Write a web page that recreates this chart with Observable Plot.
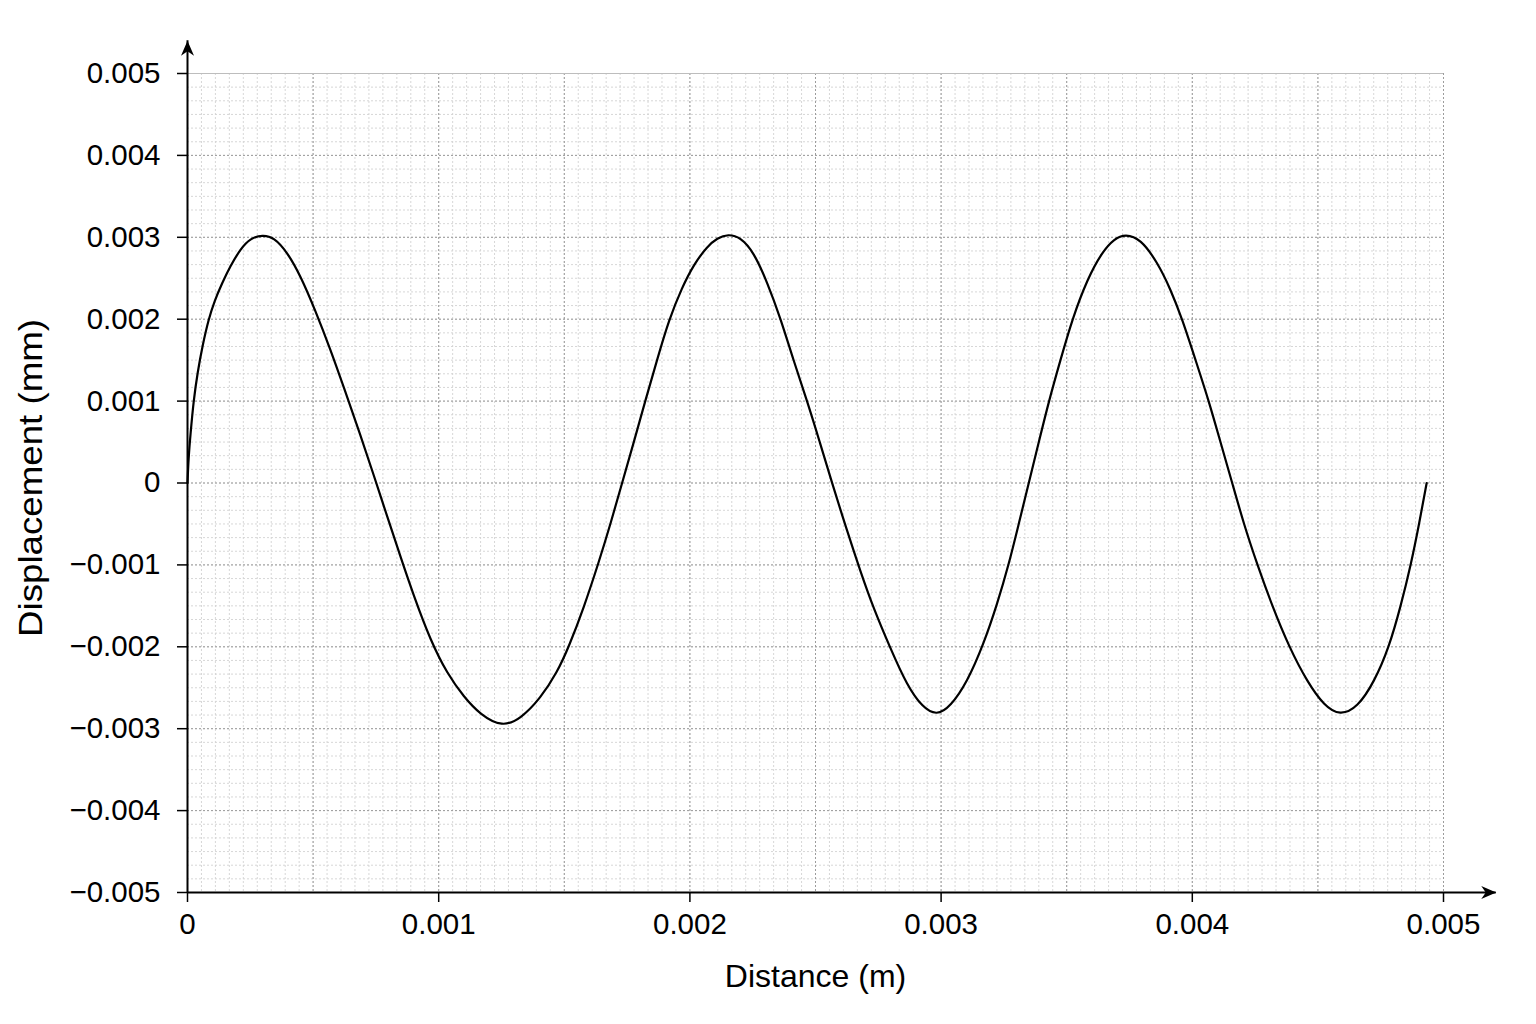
<!DOCTYPE html>
<html>
<head>
<meta charset="utf-8">
<script src="https://cdn.jsdelivr.net/npm/d3@7"></script>
<script src="https://cdn.jsdelivr.net/npm/@observablehq/plot@0.6"></script>
<style>
  html, body { margin: 0; padding: 0; background: #ffffff; }
  #chart svg { display: block; }
</style>
</head>
<body>
<div id="chart"></div>
<script>
// ---- Data ----
const distance = [
  0, 0.000004, 0.000012, 0.000024, 0.000040, 0.000060, 0.000084, 0.000107, 0.000139, 0.000171,
  0.000211, 0.000251, 0.000299, 0.000344, 0.000397, 0.000450, 0.000510, 0.000569, 0.000622, 0.000689,
  0.000742, 0.000795, 0.000848, 0.000901, 0.000967, 0.001034, 0.001100, 0.001166, 0.001253, 0.001326,
  0.001405, 0.001472, 0.001518, 0.001578, 0.001637, 0.001684, 0.001730, 0.001777, 0.001823, 0.001870,
  0.001916, 0.001969, 0.002016, 0.002069, 0.002109, 0.002152, 0.002201, 0.002254, 0.002308, 0.002361,
  0.002412, 0.002467, 0.002517, 0.002566, 0.002623, 0.002680, 0.002731, 0.002797, 0.002864, 0.002926,
  0.002982, 0.003037, 0.003104, 0.003170, 0.003223, 0.003270, 0.003309, 0.003349, 0.003389, 0.003429,
  0.003475, 0.003522, 0.003582, 0.003641, 0.003688, 0.003734, 0.003794, 0.003860, 0.003913, 0.003960,
  0.004013, 0.004066, 0.004112, 0.004159, 0.004205, 0.004259, 0.004318, 0.004385, 0.004458, 0.004525,
  0.004588, 0.004658, 0.004724, 0.004784, 0.004830, 0.004870, 0.004903, 0.004933
];
const displacement = [
  0, 0.00030, 0.00060, 0.00100, 0.00135, 0.00168, 0.00200, 0.00222, 0.00245, 0.00265,
  0.00286, 0.00299, 0.00303, 0.00300, 0.00282, 0.00253, 0.00210, 0.00163, 0.00117, 0.00058,
  0.00009, -0.00041, -0.00090, -0.00138, -0.00192, -0.00233, -0.00261, -0.00283, -0.00298, -0.00288,
  -0.00263, -0.00231, -0.00200, -0.00152, -0.00097, -0.00050, 0.00000, 0.00050, 0.00101, 0.00151,
  0.00199, 0.00239, 0.00267, 0.00289, 0.00299, 0.00304, 0.00300, 0.00282, 0.00245, 0.00201,
  0.00150, 0.00100, 0.00050, 0.00000, -0.00056, -0.00109, -0.00153, -0.00201, -0.00247, -0.00274,
  -0.00284, -0.00273, -0.00243, -0.00196, -0.00148, -0.00099, -0.00050, 0.00000, 0.00050, 0.00100,
  0.00150, 0.00200, 0.00249, 0.00282, 0.00298, 0.00304, 0.00298, 0.00270, 0.00237, 0.00200,
  0.00150, 0.00100, 0.00050, 0.00000, -0.00050, -0.00100, -0.00150, -0.00200, -0.00243, -0.00272,
  -0.00284, -0.00274, -0.00243, -0.00200, -0.00150, -0.00100, -0.00050, 0.00000
];

const xTicks = [0, 0.001, 0.002, 0.003, 0.004, 0.005];
const yTicks = [-0.005, -0.004, -0.003, -0.002, -0.001, 0, 0.001, 0.002, 0.003, 0.004, 0.005];
const xMajorGrid = [0.0005, 0.001, 0.0015, 0.002, 0.0025, 0.003, 0.0035, 0.004, 0.0045, 0.005];
const yMajorGrid = [-0.004, -0.003, -0.002, -0.001, 0, 0.001, 0.002, 0.003, 0.004];
const xMinorGrid = d3.range(1, 90).map(i => i * 0.0005 / 9);
const yMinorGrid = d3.range(1, 60).map(i => -0.005 + i * 0.001 / 6);
const xAxisEnd = 0.00521;   // x-axis line runs past the last tick to its arrow
const yAxisEnd = 0.00540;   // y-axis line runs past the top tick to its arrow

const xTitle = "Distance (m)";
const yTitle = "Displacement (mm)";

const points = distance.map((d, i) => ({ distance: d, displacement: displacement[i] }));

const fmt = d => (d === 0 ? "0" : d3.format(".3f")(d));

// filled "stealth" arrowhead, tip at the dot's position, pointing up
const stealth = {
  draw(ctx) {
    ctx.moveTo(0, 0);
    ctx.lineTo(-6.5, 15);
    ctx.lineTo(0, 10.5);
    ctx.lineTo(6.5, 15);
    ctx.closePath();
  }
};

const chart = Plot.plot({
  width: 1536,
  height: 1024,
  marginLeft: 187,
  marginRight: 93,
  marginTop: 73,
  marginBottom: 132,
  style: { fontFamily: "'Liberation Sans', Arial, Helvetica, sans-serif", fontSize: "29.5px", color: "#111", background: "#fff" },
  x: { domain: [0, 0.005], label: null },
  y: { domain: [-0.005, 0.005], label: null },
  marks: [
    // minor grid
    Plot.ruleX(xMinorGrid, { stroke: "#d2d2d2", strokeWidth: 0.9, strokeDasharray: "2,2" }),
    Plot.ruleY(yMinorGrid, { stroke: "#d2d2d2", strokeWidth: 0.9, strokeDasharray: "2,2" }),
    // major grid
    Plot.ruleX(xMajorGrid, { stroke: "#9c9c9c", strokeWidth: 1, strokeDasharray: "2,2" }),
    Plot.ruleY(yMajorGrid, { stroke: "#9c9c9c", strokeWidth: 1, strokeDasharray: "2,2" }),
    Plot.ruleY([0.005], { stroke: "#bdbdbd", strokeWidth: 1.2 }),
    // curve
    Plot.line(points, { x: "distance", y: "displacement", stroke: "#000", strokeWidth: 2.2, curve: "basis" }),
    // axis lines with arrows
    Plot.ruleY([-0.005], { x1: 0, x2: xAxisEnd, stroke: "#000", strokeWidth: 2 }),
    Plot.ruleX([0], { y1: -0.005, y2: yAxisEnd, stroke: "#000", strokeWidth: 2 }),
    Plot.dot([xAxisEnd], { x: d => d, y: () => -0.005, symbol: stealth, fill: "#000", stroke: "none", r: 1, rotate: 90 }),
    Plot.dot([yAxisEnd], { x: () => 0, y: d => d, symbol: stealth, fill: "#000", stroke: "none", r: 1 }),
    // axes
    Plot.axisX(xTicks, { tickFormat: fmt, tickSize: 10, tickPadding: 11, fontSize: 29.5, strokeWidth: 1.5, stroke: "#000", fill: "#000", label: null }),
    Plot.axisY(yTicks, { tickFormat: fmt, tickSize: 10, tickPadding: 17, fontSize: 29.5, strokeWidth: 1.5, stroke: "#000", fill: "#000", label: null }),
    // axis titles
    Plot.text([xTitle], { text: d => d, frameAnchor: "bottom", dy: 94, fontSize: 32, fill: "#000" }),
    Plot.text([yTitle], { text: d => d, frameAnchor: "left", textAnchor: "middle", lineAnchor: "middle", dx: -156, dy: -5, rotate: -90, fontSize: 33, fill: "#000" })
  ]
});

// the reference's vertical title is drawn slightly elongated
d3.select(chart).selectAll("text")
  .filter(function () { return this.textContent === yTitle; })
  .attr("textLength", 318)
  .attr("lengthAdjust", "spacingAndGlyphs");

document.getElementById("chart").appendChild(chart);
</script>
</body>
</html>
